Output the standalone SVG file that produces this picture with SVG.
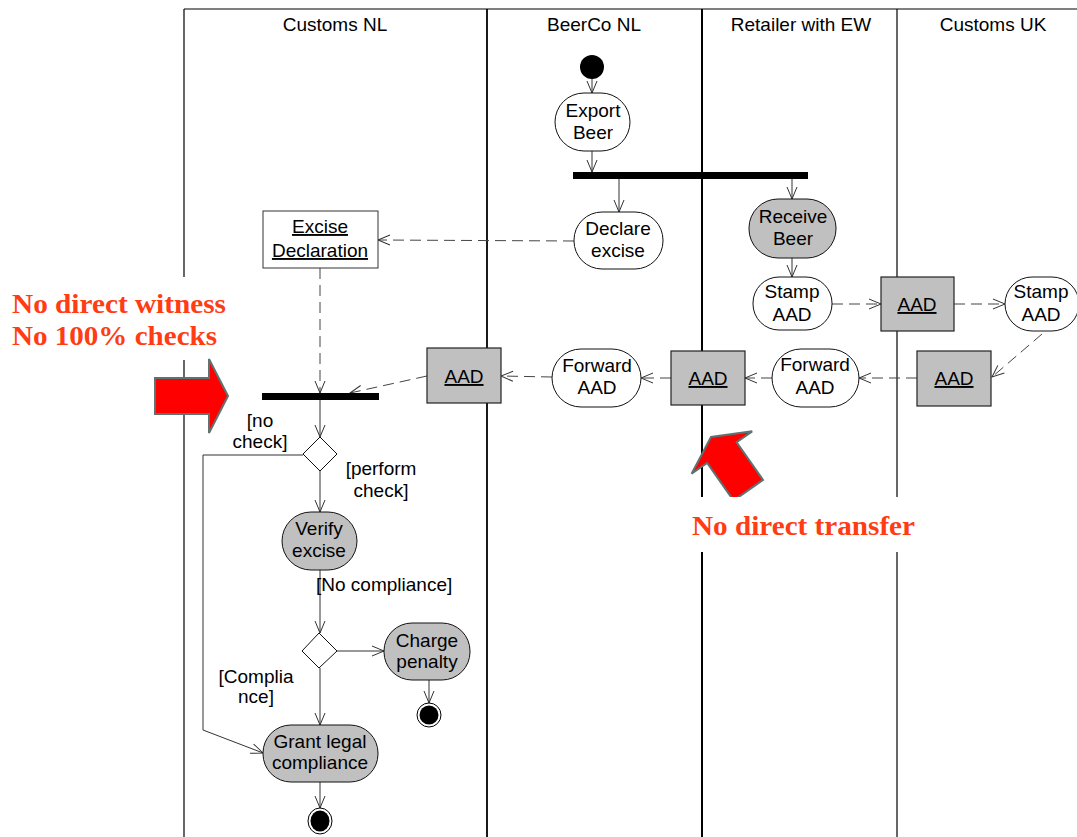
<svg xmlns="http://www.w3.org/2000/svg" width="1077" height="837" viewBox="0 0 1077 837">
  <style>
    text { font-family: "Liberation Sans", Arial, sans-serif; font-size: 19px; fill: #000; }
    .c { text-anchor: middle; }
    .u { text-decoration: underline; }
    .lane { stroke: #000; fill: none; }
    .act { fill: #fff; stroke: #111; stroke-width: 1; }
    .act.g { fill: #c0c0c0; }
    .obj { fill: #c0c0c0; stroke: #222; stroke-width: 1.2; }
    .objw { fill: #fff; stroke: #333; stroke-width: 1; }
    .bar { fill: #000; }
    .flow { fill: none; stroke: #333; stroke-width: 1; marker-end: url(#arr); }
    .dash { fill: none; stroke: #444; stroke-width: 1; stroke-dasharray: 11 6; marker-end: url(#arr); }
    .note { font-family: "Liberation Serif", "Times New Roman", serif; font-weight: bold; font-size: 28px; fill: #ff3c14; }
    .big { fill: #ff0000; stroke: #5f7373; stroke-width: 2; stroke-linejoin: miter; }
  </style>
  <defs>
    <marker id="arr" viewBox="0 0 12 10" refX="12" refY="5" markerWidth="12" markerHeight="10" orient="auto" markerUnits="userSpaceOnUse" overflow="visible">
      <path d="M0,0 L12,5 L0,10" fill="none" stroke="#333" stroke-width="1"/>
    </marker>
    <!-- block arrows, tip at the origin, pointing along +x -->
    <path id="blockArrow" d="M0,0 L-19,-37 L-19,-18 L-73,-18 L-73,18 L-19,18 L-19,37 Z"/>
    <path id="blockArrowShort" d="M0,0 L-19,-37 L-19,-18 L-65,-18 L-65,18 L-19,18 L-19,37 Z"/>
  </defs>

  <rect width="1077" height="837" fill="#fff"/>

  <!-- swimlanes -->
  <g id="lanes">
    <line class="lane" x1="184" y1="9" x2="1077" y2="9" stroke="#555" stroke-width="1"/>
    <line class="lane" x1="184" y1="9" x2="184" y2="837" stroke="#444" stroke-width="1.2"/>
    <line class="lane" x1="487" y1="9" x2="487" y2="837" stroke-width="1.8"/>
    <line class="lane" x1="702" y1="9" x2="702" y2="837" stroke-width="2"/>
    <line class="lane" x1="897" y1="9" x2="897" y2="837" stroke-width="1.2"/>
    <text class="c" x="335" y="31">Customs NL</text>
    <text class="c" x="594" y="31">BeerCo NL</text>
    <text class="c" x="801" y="31">Retailer with EW</text>
    <text class="c" x="993" y="31">Customs UK</text>
  </g>

  <!-- annotations -->
  <g id="note-witness">
    <rect x="0" y="277" width="232" height="83" fill="#fff"/>
    <text class="note" x="12" y="313" textLength="214" lengthAdjust="spacingAndGlyphs">No direct witness</text>
    <text class="note" x="12" y="345" textLength="205" lengthAdjust="spacingAndGlyphs">No 100% checks</text>
    <use href="#blockArrow" class="big" transform="translate(228,396)"/>
  </g>
  <g id="note-transfer">
    <use href="#blockArrowShort" class="big" transform="translate(711,437) rotate(-125)"/>
    <rect x="686" y="497" width="234" height="55" fill="#fff"/>
    <text class="note" x="692" y="535" textLength="223" lengthAdjust="spacingAndGlyphs">No direct transfer</text>
  </g>

  <!-- connectors -->
  <g id="connectors">
    <line class="flow" x1="592" y1="79" x2="592" y2="93"/>
    <line class="flow" x1="592" y1="151" x2="592" y2="172"/>
    <line class="flow" x1="619" y1="179" x2="619" y2="212"/>
    <line class="flow" x1="792" y1="179" x2="792" y2="199"/>
    <line class="flow" x1="792" y1="258" x2="792" y2="277"/>
    <line class="flow" x1="320" y1="400" x2="320" y2="437"/>
    <line class="flow" x1="320" y1="471" x2="320" y2="512"/>
    <line class="flow" x1="320" y1="570" x2="320" y2="633"/>
    <line class="flow" x1="337" y1="651" x2="384" y2="651"/>
    <line class="flow" x1="429" y1="680" x2="429" y2="703"/>
    <line class="flow" x1="320" y1="668" x2="320" y2="725"/>
    <polyline class="flow" points="303,455 203,455 203,730 263,753"/>
    <line class="flow" x1="320" y1="782" x2="320" y2="808"/>

    <line class="dash" x1="574" y1="241" x2="378" y2="240"/>
    <line class="dash" x1="320" y1="268" x2="320" y2="393"/>
    <line class="dash" x1="832" y1="304" x2="881" y2="304"/>
    <line class="dash" x1="954" y1="304" x2="1005" y2="304"/>
    <line class="dash" x1="1042" y1="334" x2="992" y2="377"/>
    <line class="dash" x1="917" y1="378" x2="859" y2="378"/>
    <line class="dash" x1="772" y1="378" x2="745" y2="378"/>
    <line class="dash" x1="671" y1="378" x2="641" y2="378"/>
    <line class="dash" x1="552" y1="377" x2="501" y2="376"/>
    <line class="dash" x1="427" y1="376" x2="350" y2="393"/>
  </g>

  <!-- BeerCo NL -->
  <g id="start"><circle cx="592" cy="67" r="12" fill="#000"/></g>
  <g id="export-beer">
    <rect class="act" x="555" y="93" width="75" height="58" rx="29" ry="29"/>
    <text class="c" x="593" y="117">Export</text>
    <text class="c" x="593" y="139">Beer</text>
  </g>
  <g id="fork"><rect class="bar" x="573" y="172" width="235" height="7"/></g>
  <g id="declare-excise">
    <rect class="act" x="574" y="212" width="89" height="57" rx="28" ry="28"/>
    <text class="c" x="618" y="235">Declare</text>
    <text class="c" x="618" y="257">excise</text>
  </g>
  <g id="forward-aad-beerco">
    <rect class="act" x="552" y="349" width="89" height="58" rx="29" ry="29"/>
    <text class="c" x="597" y="372">Forward</text>
    <text class="c" x="597" y="394">AAD</text>
  </g>
  <g id="aad-4">
    <rect class="obj" x="427" y="348" width="74" height="55"/>
    <text class="c u" x="464" y="383">AAD</text>
  </g>

  <!-- Retailer with EW -->
  <g id="receive-beer">
    <rect class="act g" x="749" y="199" width="87" height="59" rx="29" ry="29"/>
    <text class="c" x="793" y="223">Receive</text>
    <text class="c" x="793" y="245">Beer</text>
  </g>
  <g id="stamp-aad-retailer">
    <rect class="act" x="753" y="277" width="79" height="53" rx="26" ry="26"/>
    <text class="c" x="792" y="298">Stamp</text>
    <text class="c" x="792" y="321">AAD</text>
  </g>
  <g id="forward-aad-retailer">
    <rect class="act" x="772" y="349" width="87" height="58" rx="29" ry="29"/>
    <text class="c" x="815" y="371">Forward</text>
    <text class="c" x="815" y="394">AAD</text>
  </g>
  <g id="aad-3">
    <rect class="obj" x="671" y="351" width="74" height="54"/>
    <text class="c u" x="708" y="385">AAD</text>
  </g>

  <!-- Customs UK -->
  <g id="aad-1">
    <rect class="obj" x="881" y="277" width="73" height="54"/>
    <text class="c u" x="917" y="311">AAD</text>
  </g>
  <g id="stamp-aad-uk">
    <rect class="act" x="1005" y="277" width="74" height="54" rx="27" ry="27"/>
    <text class="c" x="1041" y="298">Stamp</text>
    <text class="c" x="1041" y="321">AAD</text>
  </g>
  <g id="aad-2">
    <rect class="obj" x="917" y="351" width="74" height="55"/>
    <text class="c u" x="954" y="385">AAD</text>
  </g>

  <!-- Customs NL -->
  <g id="excise-declaration">
    <rect class="objw" x="263" y="211" width="115" height="57"/>
    <text class="c u" x="320" y="233">Excise</text>
    <text class="c u" x="320" y="257">Declaration</text>
  </g>
  <g id="join"><rect class="bar" x="262" y="393" width="117" height="7"/></g>
  <g id="check-decision">
    <polygon class="act" points="320,437 337,454 320,471 303,454"/>
    <text class="c" x="260" y="427">[no</text>
    <text class="c" x="260" y="448">check]</text>
    <text class="c" x="381" y="475">[perform</text>
    <text class="c" x="381" y="497">check]</text>
  </g>
  <g id="verify-excise">
    <rect class="act g" x="282" y="512" width="75" height="58" rx="29" ry="29"/>
    <text class="c" x="319" y="535">Verify</text>
    <text class="c" x="319" y="557">excise</text>
  </g>
  <g id="compliance-decision">
    <text x="316" y="591">[No compliance]</text>
    <polygon class="act" points="319,633 337,651 319,668 302,651"/>
    <text class="c" x="256" y="683">[Complia</text>
    <text class="c" x="256" y="703">nce]</text>
  </g>
  <g id="charge-penalty">
    <rect class="act g" x="384" y="623" width="86" height="57" rx="28" ry="28"/>
    <text class="c" x="427" y="647">Charge</text>
    <text class="c" x="427" y="668">penalty</text>
  </g>
  <g id="end-penalty">
    <circle cx="429" cy="715" r="12" fill="#fff" stroke="#000" stroke-width="1"/>
    <circle cx="429" cy="715" r="9.5" fill="#000"/>
  </g>
  <g id="grant-compliance">
    <rect class="act g" x="263" y="725" width="115" height="57" rx="28" ry="28"/>
    <text class="c" x="320" y="748">Grant legal</text>
    <text class="c" x="320" y="769">compliance</text>
  </g>
  <g id="end-compliance">
    <ellipse cx="320" cy="821" rx="12" ry="13" fill="#fff" stroke="#000" stroke-width="1"/>
    <ellipse cx="320" cy="821" rx="9.5" ry="10.5" fill="#000"/>
  </g>
</svg>
